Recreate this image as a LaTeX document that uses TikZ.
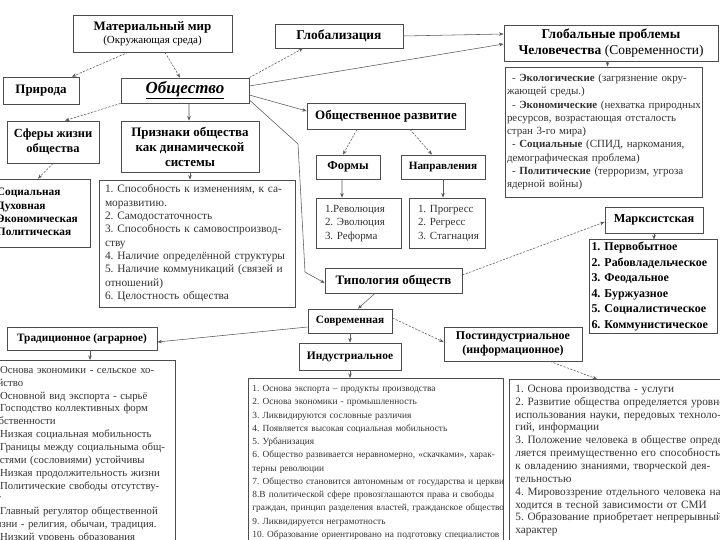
\documentclass[tikz,border=0pt]{standalone}
\usepackage{fontspec}
\setmainfont{Liberation Serif}
\usetikzlibrary{arrows.meta}
\newcommand{\Lns}[1]{\begin{tabular}{@{}l@{}}#1\end{tabular}}
\begin{document}
\frenchspacing
\begin{tikzpicture}[x=1bp,y=-1bp,
  box/.style={draw=black!70, line width=0.8bp, inner sep=0pt, align=center, fill=white},
  ttl/.style={font=\bfseries\fontsize{13}{15}\selectfont},
  lst/.style={text=black!80, align=left},
  conn/.style={draw=black!65, line width=0.55bp, -{Stealth[length=4.5bp,width=3.5bp]}},
  dconn/.style={conn, dash pattern=on 2.2bp off 1.4bp},
]
\useasboundingbox (0,0) rectangle (720,540);
\clip (0,0) rectangle (720,540);
\fill[white] (0,0) rectangle (720,540);

% ---- top left
\node[box, ttl, minimum width=159bp, minimum height=37bp] (mat) at (152.5,33.5)
  {Материальный мир\\[-1.5bp]{\mdseries\fontsize{11}{13}\selectfont(Окружающая среда)}};
\node[box, ttl, minimum width=76bp, minimum height=27bp] (prir) at (41,90.5) {Природа};
\node[box, font=\bfseries\itshape\fontsize{17}{20}\selectfont, minimum width=128bp, minimum height=25bp] (obsh) at (185,90.5) {\underline{Общество}};
\node[box, font=\bfseries\fontsize{12.5}{15}\selectfont, minimum width=92bp, minimum height=42bp] (sfery) at (53,142) {Сферы жизни\\общества};
\node[box, font=\bfseries\fontsize{13}{15}\selectfont, minimum width=138bp, minimum height=51bp] (priz) at (190,146.5) {Признаки общества\\как динамической\\системы};
\node[box, align=left, font=\bfseries\fontsize{11.4}{13.3}\selectfont, minimum width=95bp, minimum height=68bp, text width=91bp, inner xsep=2bp] (sflist) at (42.5,213)
  {\Lns{Социальная\\Духовная\\Экономическая\\Политическая}};
\node[box, lst, font=\fontsize{11.4}{13.4}\selectfont, minimum width=196bp, minimum height=127bp, text width=188bp, inner xsep=4bp] (prizlist) at (197,243.5)
  {\Lns{\hspace*{2bp}1. Способность к изменениям, к са-\\\hspace*{2bp}моразвитию.\\\hspace*{2bp}2. Самодостаточность\\\hspace*{2bp}3. Способность к самовоспроизвод-\\\hspace*{2bp}ству\\\hspace*{2bp}4. Наличие определённой структуры\\\hspace*{2bp}5. Наличие коммуникаций (связей и\\\hspace*{2bp}отношений)\\\hspace*{2bp}6. Целостность общества}};

% ---- top right
\node[box, font=\bfseries\fontsize{13.5}{15}\selectfont, minimum width=128bp, minimum height=24bp] (glob) at (339,36) {Глобализация};
\node[box, font=\bfseries\fontsize{13.5}{16}\selectfont, minimum width=214bp, minimum height=36bp] (gprob) at (611,43)
  {Глобальные проблемы\\Человечества {\mdseries(Современности)}};
\node[box, lst, font=\fontsize{11}{13.3}\selectfont, minimum width=197bp, minimum height=130bp, text width=195bp, inner xsep=1bp] (eko) at (603.5,132)
  {\Lns{\hspace*{6bp}- \textbf{Экологические} (загрязнение окру-\\\hspace*{1bp}жающей среды.)\\\hspace*{6bp}- \textbf{Экономические} (нехватка природных\\\hspace*{1bp}ресурсов, возрастающая отсталость\\\hspace*{1bp}стран 3-го мира)\\\hspace*{6bp}- \textbf{Социальные} (СПИД, наркомания,\\\hspace*{1bp}демографическая проблема)\\\hspace*{6bp}- \textbf{Политические} (терроризм, угроза\\\hspace*{1bp}ядерной войны)}};

% ---- middle
\node[box, ttl, minimum width=158bp, minimum height=26bp] (razv) at (386,116) {Общественное развитие};
\node[box, font=\bfseries\fontsize{12.3}{13}\selectfont, minimum width=64bp, minimum height=24bp] (formy) at (348,167) {Формы};
\node[box, font=\bfseries\fontsize{11.2}{13}\selectfont, minimum width=84bp, minimum height=24bp] (napr) at (443,167) {Направления};
\node[box, lst, font=\fontsize{11}{13.5}\selectfont, minimum width=85bp, minimum height=50bp, text width=85bp] (flist) at (358.5,223)
  {\Lns{\hspace*{9bp}1.Революция\\\hspace*{9bp}2. Эволюция\\\hspace*{9bp}3. Реформа}};
\node[box, lst, font=\fontsize{11}{13.5}\selectfont, minimum width=76bp, minimum height=50bp, text width=76bp] (nlist) at (447,223)
  {\Lns{\hspace*{9bp}1. Прогресс\\\hspace*{9bp}2. Регресс\\\hspace*{9bp}3. Стагнация}};
\node[box, ttl, minimum width=137bp, minimum height=25bp] (tip) at (393.5,280.5) {Типология обществ};
\node[box, font=\bfseries\fontsize{12.3}{13}\selectfont, minimum width=98bp, minimum height=26bp] (marx) at (654,220) {Марксистская};
\node[box, align=left, font=\bfseries\fontsize{12}{15.6}\selectfont, minimum width=128bp, minimum height=91bp, text width=123bp, inner xsep=2.5bp] (mlist) at (653,286.5)
  {\Lns{1. Первобытное\\2. Рабовладельческое\\3. Феодальное\\4. Буржуазное\\5. Социалистическое\\6. Коммунистическое}};

% ---- bottom
\node[box, font=\bfseries\fontsize{11.3}{13}\selectfont, minimum width=84bp, minimum height=24bp] (sovr) at (350,321) {Современная};
\node[box, font=\bfseries\fontsize{11.5}{13}\selectfont, minimum width=102bp, minimum height=27bp] (indus) at (350,356.5) {Индустриальное};
\node[box, font=\bfseries\fontsize{12}{14}\selectfont, minimum width=138bp, minimum height=34bp] (post) at (513,344) {Постиндустриальное\\(информационное)};
\node[box, font=\bfseries\fontsize{11.3}{13}\selectfont, minimum width=150bp, minimum height=23bp] (trad) at (82,338.5) {Традиционное (аграрное)};

\node[box, lst, font=\fontsize{10.8}{12.9}\selectfont, anchor=north west, text width=182bp, inner xsep=5bp, inner ysep=4bp] (tlist) at (-17,360)
  {\Lns{1. Основа экономики - сельское хо-\\зяйство\\2. Основной вид экспорта - сырьё\\3. Господство коллективных форм\\собственности\\4. Низкая социальная мобильность\\5. Границы между социальныма общ-\\ностями (сословиями) устойчивы\\6. Низкая продолжительность жизни\\7. Политические свободы отсутству-\\ют\\8. Главный регулятор общественной\\жизни - религия, обычаи, традиция.\\9. Низкий уровень образования}};
\node[box, lst, font=\fontsize{9.4}{13.3}\selectfont, anchor=north west, text width=249bp, inner xsep=3bp, inner ysep=4bp] (ilist) at (248,378)
  {\Lns{\hspace*{1bp}1. Основа экспорта – продукты производства\\\hspace*{1bp}2. Основа экономики - промышленность\\\hspace*{1bp}3. Ликвидируются сословные различия\\\hspace*{1bp}4. Появляется высокая социальная мобильность\\\hspace*{1bp}5. Урбанизация\\\hspace*{1bp}6. Общество развивается неравномерно, «скачками», харак-\\\hspace*{1bp}терны революции\\\hspace*{1bp}7. Общество становится автономным от государства и церкви\\\hspace*{1bp}8.В политической сфере провозглашаются права и свободы\\\hspace*{1bp}граждан, принцип разделения властей, гражданское общество\\\hspace*{1bp}9. Ликвидируется неграмотность\\\hspace*{1bp}10. Образование ориентировано на подготовку специалистов\\ }};
\node[box, lst, font=\fontsize{11.3}{12.9}\selectfont, anchor=north west, text width=250bp, inner xsep=6bp, inner ysep=4bp] (plist) at (509,379)
  {\Lns{1. Основа производства - услуги\\2. Развитие общества определяется уровнем\\использования науки, передовых техноло-\\гий, информации\\3. Положение человека в обществе опреде-\\ляется преимущественно его способностью\\к овладению знаниями, творческой дея-\\тельностью\\4. Мировоззрение отдельного человека на-\\ходится в тесной зависимости от СМИ\\5. Образование приобретает непрерывный\\характер}};

% ---- connectors
\coordinate (b1) at (298,144);
\coordinate (b2) at (305,272);
\draw[dconn] ([xshift=-24.5bp]mat.south) -- ([xshift=31bp]prir.north);
\draw[dconn] ([xshift=12.5bp]mat.south) -- ([xshift=-5bp]obsh.north);
\draw[dconn] (obsh.south west) -- ([xshift=12bp]sfery.north);
\draw[conn] ([xshift=4bp]obsh.south) -- ([xshift=-1bp]priz.north);
\draw[dconn] (sfery.south) -- ([xshift=-4.5bp]sflist.north);
\draw[conn] (priz.south) -- (priz.south |- prizlist.north);
\draw[dconn] (obsh.north east) -- ([xshift=-36bp]glob.south);
\draw[conn] ([yshift=4.5bp]obsh.east) -- ([yshift=-1bp]gprob.west);
\draw[conn] (glob.east) -- ([yshift=9bp]gprob.west);
\draw[conn] ([xshift=-3.5bp]gprob.south) -- ([xshift=4bp]eko.north);
\draw[conn] ([yshift=-4.5bp]obsh.east) -- ([yshift=5bp]razv.west);
\draw[conn] ([yshift=-9.5bp]obsh.east) -- (b1) -- (b2) -- ([yshift=-2.5bp]tip.west);
\draw[dconn] ([xshift=-29bp]razv.south) -- ([xshift=-5bp]formy.north);
\draw[dconn] ([xshift=24bp]razv.south) -- ([xshift=-11bp]napr.north);
\draw[conn] ([xshift=-6bp]formy.south) -- ([xshift=-16.5bp]flist.north);
\draw[conn] (napr.south) -- (napr.south |- nlist.north);
\draw[dconn] ([yshift=5.5bp]tip.east) -- ([yshift=-2bp]marx.west);
\draw[conn] (marx.south) -- (marx.south |- mlist.north);
\draw[conn] ([xshift=-18.5bp]tip.south) -- ([xshift=8bp]sovr.north);
\draw[conn] ([yshift=-6bp]sovr.west) -- ([yshift=-3.5bp]trad.east);
\draw[conn] (sovr.south) -- (indus.north);
\draw[conn] (indus.south) -- (indus.south |- ilist.north);
\draw[dconn] ([yshift=3bp]sovr.east) -- ([yshift=2bp]post.west);
\draw[dconn] ([xshift=37bp]post.south) -- ([xshift=88bp]plist.north west);
\draw[conn] ([xshift=8bp]trad.south) -- ([xshift=8bp]trad.south |- tlist.north);
\end{tikzpicture}
\end{document}
